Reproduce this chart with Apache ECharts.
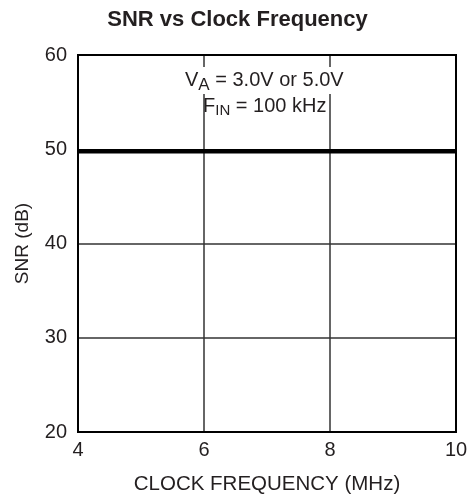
<!DOCTYPE html>
<html><head><meta charset="utf-8">
<script src="https://cdn.jsdelivr.net/npm/echarts@6/dist/echarts.min.js"></script>
<style>html,body{margin:0;padding:0;background:#fff}#c{width:475px;height:501px}</style>
</head><body><div id="c"></div>
<script>
const clockFreq = [4, 6, 8, 10];
const snrValues = [49.8, 49.8, 49.8, 49.8];
const xTicks = [4, 6, 8, 10];
const yTicks = [20, 30, 40, 50, 60];

const chart = echarts.init(document.getElementById('c'));
const font = 'Liberation Sans, Arial, sans-serif';
chart.setOption({
  animation: false,
  backgroundColor: '#fff',
  title: {
    text: 'SNR vs Clock Frequency',
    left: 'center', top: 4,
    textStyle: {fontFamily: font, fontWeight: 'bold', fontSize: 22, color: '#231f20'}
  },
  grid: {left: 78, right: 19, top: 55, bottom: 69},
  xAxis: {
    type: 'value', min: xTicks[0], max: xTicks[xTicks.length-1], interval: 2,
    name: 'CLOCK FREQUENCY (MHz)', nameLocation: 'middle', nameGap: 42,
    nameTextStyle: {fontFamily: font, fontSize: 20.5, color: '#231f20'},
    axisLine: {show: true, lineStyle: {color: '#000', width: 2}},
    axisTick: {show: false},
    axisLabel: {fontFamily: font, fontSize: 20, color: '#231f20', margin: 8},
    splitLine: {show: true, lineStyle: {color: '#333', width: 1.5}}
  },
  yAxis: {
    type: 'value', min: yTicks[0], max: yTicks[yTicks.length-1], interval: 10,
    name: 'SNR (dB)', nameLocation: 'middle', nameGap: 46, nameRotate: 90,
    nameTextStyle: {fontFamily: font, fontSize: 19, color: '#231f20'},
    axisLine: {show: true, lineStyle: {color: '#000', width: 2}},
    axisTick: {show: false},
    axisLabel: {fontFamily: font, fontSize: 20, color: '#231f20', margin: 11},
    splitLine: {show: true, lineStyle: {color: '#333', width: 1.5}}
  },
  graphic: [
    {type: 'rect', shape: {x: 78, y: 55, width: 378, height: 377}, style: {fill: 'none', stroke: '#000', lineWidth: 2}, z: 10, silent: true},
    {type: 'text', left: 185, top: 67, z: 20, style: {
      rich: {n: {fontFamily: font, fontSize: 20, fill: '#231f20'}, s: {fontFamily: font, fontSize: 17, fill: '#231f20', padding: [10, 0, 0, 0]}},
      text: '{n|V}{s|A}{n| = 3.0V or 5.0V}', backgroundColor: '#fff'
    }},
    {type: 'text', left: 203, top: 96, z: 20, style: {
      rich: {n: {fontFamily: font, fontSize: 20, fill: '#231f20'}, s: {fontFamily: font, fontSize: 15, fill: '#231f20', padding: [10, 0, 0, 0]}},
      text: '{n|F}{s|IN}{n| = 100 kHz}'
    }}
  ],
  series: [{
    type: 'line', data: clockFreq.map((x, i) => [x, snrValues[i]]),
    showSymbol: false, lineStyle: {color: '#000', width: 4.5}, z: 5
  }]
});
</script></body></html>
